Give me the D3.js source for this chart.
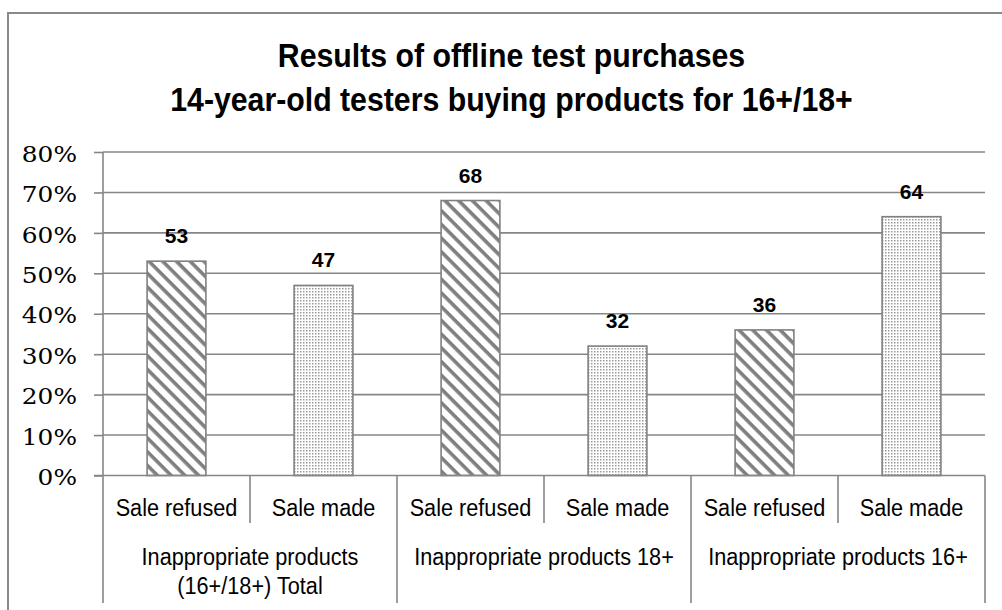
<!DOCTYPE html>
<html><head><meta charset="utf-8">
<script src="https://cdn.jsdelivr.net/npm/d3@7"></script>
<style>
html,body{margin:0;padding:0;background:#fff;}
svg{display:block;}
</style>
</head><body>
<svg id="chart" width="1002" height="610"></svg>
<script>
const titleLines = ["Results of offline test purchases", "14-year-old testers buying products for 16+/18+"];
const groups = ["Inappropriate products\n(16+/18+) Total", "Inappropriate products 18+", "Inappropriate products 16+"];
const outcomes = ["Sale refused", "Sale made"];
const values = [
  [53, 47],
  [68, 32],
  [36, 64]
];
const yTicks = [0, 10, 20, 30, 40, 50, 60, 70, 80];

(function () {
const sans = "'Liberation Sans',Arial,sans-serif";
const serif = "'DejaVu Serif',serif";
const grid = "#868686";

const svg = d3.select("#chart");
const defs = svg.append("defs");

const stripe = defs.append("pattern").attr("id", "stripes").attr("patternUnits", "userSpaceOnUse")
  .attr("width", 9.7).attr("height", 9.7).attr("patternTransform", "rotate(45)");
stripe.append("rect").attr("width", 9.7).attr("height", 9.7).attr("fill", "#fff");
stripe.append("rect").attr("width", 9.7).attr("height", 3.6).attr("fill", "#7f7f7f");

const dots = defs.append("pattern").attr("id", "dots").attr("patternUnits", "userSpaceOnUse")
  .attr("width", 3).attr("height", 3);
dots.append("rect").attr("width", 3).attr("height", 3).attr("fill", "#fff");
dots.append("rect").attr("width", 1.5).attr("height", 1.5).attr("fill", "#9a9a9a");

// helper: horizontally condensed text
function label(parent, x, yy, txt, size, weight, sx, anchor) {
  parent.append("g").attr("transform", `translate(${x},${yy}) scale(${sx},1)`)
    .append("text").attr("x", 0).attr("y", 0)
    .attr("text-anchor", anchor || "middle")
    .style("font-family", weight === "bold" ? sans : sans)
    .style("font-weight", weight).style("font-size", size + "px")
    .attr("fill", "#000").text(txt);
}
function serifLabel(parent, x, yy, txt, size, sx) {
  parent.append("g").attr("transform", `translate(${x},${yy}) scale(${sx},1)`)
    .append("text").attr("text-anchor", "end")
    .style("font-family", serif).style("font-size", size + "px")
    .attr("fill", "#000").text(txt);
}

svg.append("rect").attr("x", 8).attr("y", 13).attr("width", 1100).attr("height", 700)
  .attr("fill", "none").attr("stroke", "#898989").attr("stroke-width", 2);

const pLeft = 103, pRight = 985, pTop = 152, pBase = 475.5;
const x0 = d3.scaleBand().domain(groups).range([pLeft, pRight]);
const x1 = d3.scaleBand().domain(outcomes).range([0, x0.bandwidth()]).paddingInner(0.6).paddingOuter(0.3);
const xc = d3.scaleBand().domain(outcomes).range([0, x0.bandwidth()]);
const y = d3.scaleLinear().domain([0, 80]).range([pBase, pTop]);

// title
const tg = svg.append("g");
titleLines.forEach((t, i) => label(tg, 511.5, i === 0 ? 67 : 110.5, t, 34, "bold", 0.89));

// y axis ticks (outside) + labels
const yAxis = d3.axisLeft(y).tickValues(yTicks).tickFormat("").tickSize(9);
const yg = svg.append("g").attr("transform", `translate(${pLeft},0)`).call(yAxis);
yg.select(".domain").remove();
yg.selectAll(".tick line").attr("stroke", grid).attr("stroke-width", 1.6);
const yl = svg.append("g");
yTicks.forEach(t => serifLabel(yl, 77, y(t) + 9.7, t + "%", 23, 1.08));

// gridlines
svg.append("g").selectAll("line").data(yTicks.filter(d => d > 0)).join("line")
  .attr("x1", pLeft).attr("x2", pRight).attr("y1", d => y(d)).attr("y2", d => y(d))
  .attr("stroke", grid).attr("stroke-width", 1.6);

svg.append("line").attr("x1", pLeft).attr("x2", pLeft).attr("y1", pTop).attr("y2", 603)
  .attr("stroke", grid).attr("stroke-width", 1.6);

// bars + value labels
const bars = svg.append("g");
groups.forEach((g, gi) => {
  outcomes.forEach((o, oi) => {
    const v = values[gi][oi];
    const bx = x0(g) + x1(o);
    bars.append("rect")
      .attr("x", bx).attr("y", y(v)).attr("width", x1.bandwidth()).attr("height", pBase - y(v))
      .attr("fill", oi === 0 ? "url(#stripes)" : "url(#dots)")
      .attr("stroke", "#808080").attr("stroke-width", 1.6);
    label(bars, bx + x1.bandwidth() / 2, y(v) - 18, String(v), 21, "bold", 1);
  });
});

svg.append("line").attr("x1", pLeft - 9).attr("x2", pRight).attr("y1", pBase).attr("y2", pBase)
  .attr("stroke", grid).attr("stroke-width", 1.6);

// category axis
const cat = svg.append("g");
groups.forEach((g, gi) => {
  const gx = x0(g);
  cat.append("line").attr("x1", gx + xc.bandwidth()).attr("x2", gx + xc.bandwidth())
    .attr("y1", pBase).attr("y2", 523).attr("stroke", grid).attr("stroke-width", 1.6);
  cat.append("line").attr("x1", gx + x0.bandwidth()).attr("x2", gx + x0.bandwidth())
    .attr("y1", pBase).attr("y2", 603).attr("stroke", grid).attr("stroke-width", 1.6);
  outcomes.forEach(o => label(cat, gx + xc(o) + xc.bandwidth() / 2, 516, o, 23.7, "normal", 0.915));
  g.split("\n").forEach((line, li) => label(cat, gx + x0.bandwidth() / 2, 564.5 + li * 29, line, 23.7, "normal", 0.915));
});
})();
</script>
</body></html>
